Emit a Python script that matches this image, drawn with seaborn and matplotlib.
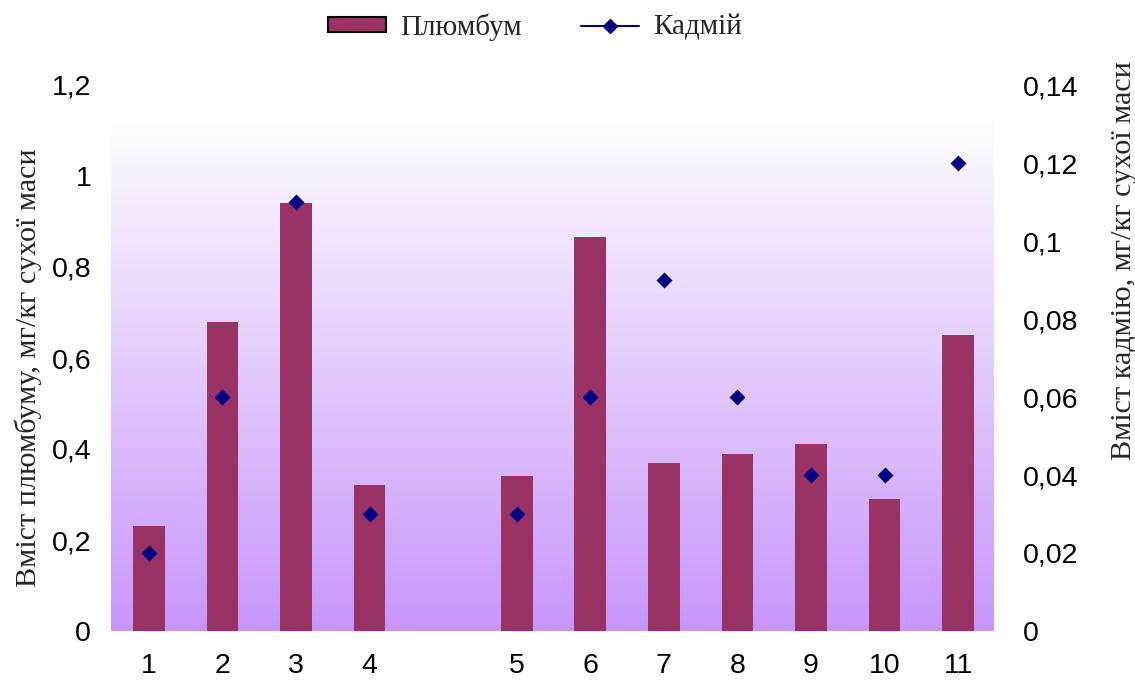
import numpy as np
import matplotlib
matplotlib.use("Agg")
import matplotlib.pyplot as plt
from matplotlib.patches import Patch
from matplotlib.lines import Line2D
from matplotlib.ticker import FuncFormatter
from matplotlib.colors import LinearSegmentedColormap
import seaborn as sns

# ---- data ----
samples = ['1', '2', '3', '4', '5', '6', '7', '8', '9', '10', '11']
order = ['1', '2', '3', '4', ' ', '5', '6', '7', '8', '9', '10', '11']
lead = [0.23, 0.68, 0.94, 0.32, 0.34, 0.865, 0.37, 0.39, 0.41, 0.29, 0.65]
cadmium = [0.02, 0.06, 0.11, 0.03, 0.03, 0.06, 0.09, 0.06, 0.04, 0.04, 0.12]
lead_ticks = [0, 0.2, 0.4, 0.6, 0.8, 1.0, 1.2]
cad_ticks = [0, 0.02, 0.04, 0.06, 0.08, 0.10, 0.12, 0.14]
series_names = ['Плюмбум', 'Кадмій']
ylabel_left = 'Вміст плюмбуму, мг/кг сухої маси'
ylabel_right = 'Вміст кадмію, мг/кг сухої маси'

BAR = '#993366'
MARK = '#000080'

sns.set_style('white')
plt.rcParams['font.family'] = ['Liberation Sans', 'DejaVu Sans']

W, H = 1135, 684
fig = plt.figure(figsize=(W / 100, H / 100), dpi=100)

def fr(x0, y0, x1, y1):
    return [x0 / W, 1 - y1 / H, (x1 - x0) / W, (y1 - y0) / H]

# gradient background
bg = fig.add_axes(fr(111, 119, 994, 631), zorder=-1)
cmap = LinearSegmentedColormap.from_list('g', ['#C896FA', '#FEFDFF'])
bg.imshow(np.linspace(0, 1, 256).reshape(-1, 1)[::-1], aspect='auto', cmap=cmap,
          extent=(0, 1, 0, 1))
bg.set_axis_off()

ax = fig.add_axes(fr(112, 85, 995, 631))
ax.patch.set_alpha(0)
sns.barplot(x=samples, y=lead, order=order, color=BAR, saturation=1,
            width=0.43, ax=ax, zorder=2, edgecolor='none', linewidth=0)
ax.set_ylim(0, 1.2)
ax.set_yticks(lead_ticks)

ax2 = ax.twinx()
sns.pointplot(x=samples, y=cadmium, order=order, color=MARK, markers='D',
              linestyle='none', errorbar=None, markersize=6.5, ax=ax2)
ax2.set_ylim(0, 0.14)
ax2.set_yticks(cad_ticks)
ax.set_xlim(-0.5, len(order) - 0.5)

fmt = FuncFormatter(lambda v, p: f"{v:.2f}".rstrip('0').rstrip('.').replace('.', ','))
ax.yaxis.set_major_formatter(fmt)
ax2.yaxis.set_major_formatter(fmt)

for a in (ax, ax2):
    for s in a.spines.values():
        s.set_visible(False)
    a.set_xlabel('')
ax.tick_params(axis='both', length=0, labelsize=20.5, colors='black')
ax.tick_params(axis='y', pad=15)
ax.tick_params(axis='x', pad=16)
ax2.tick_params(axis='y', length=0, labelsize=20.5, pad=20, colors='black')

serif = ['Liberation Serif', 'DejaVu Serif']
ax.set_ylabel(ylabel_left, family=serif, fontsize=21.7, va='center')
ax.yaxis.set_label_coords(-0.095, 0.482)
ax2.set_ylabel(ylabel_right, family=serif, fontsize=21.7, va='center', rotation=90)
ax2.yaxis.set_label_coords(1.146, 0.678)

handles = [Patch(facecolor=BAR, edgecolor='black', linewidth=1.5),
           Line2D([], [], color=MARK, marker='D', markersize=7, linewidth=1.5)]
fig.legend(handles, series_names, loc='center', bbox_to_anchor=(535 / W, 1 - 27 / H),
           ncol=2, frameon=False, prop={'family': serif, 'size': 21},
           handlelength=2.0, handleheight=0.45, handletextpad=0.5, columnspacing=2.0)

fig.savefig('out.png', dpi=100)
